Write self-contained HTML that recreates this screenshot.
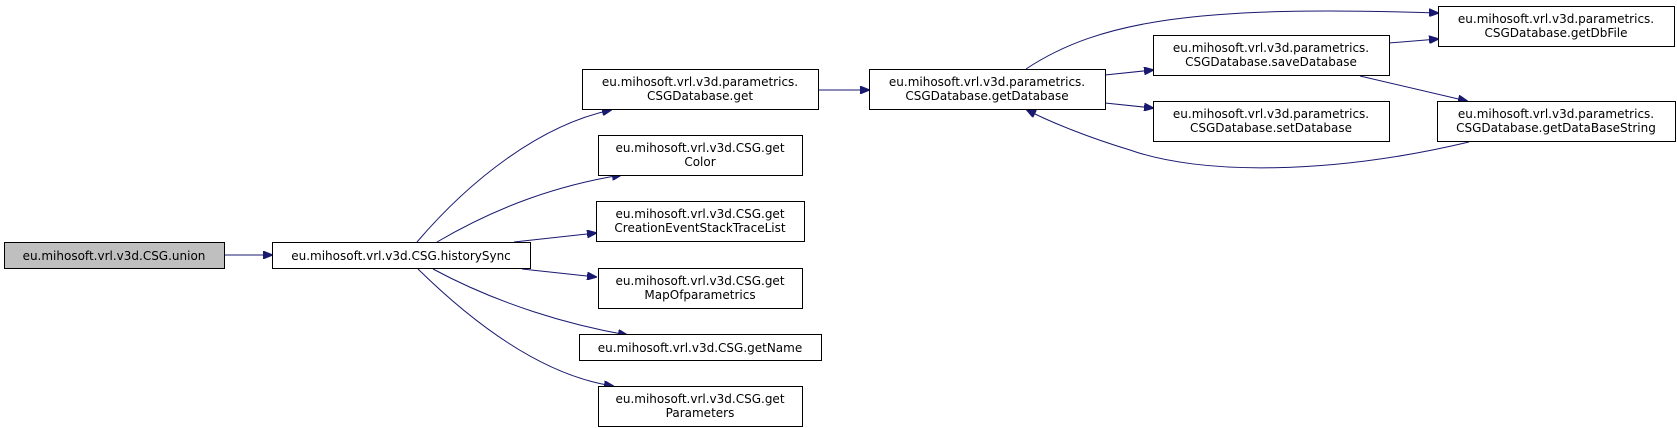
<!DOCTYPE html>
<html><head><meta charset="utf-8"><style>
html,body{margin:0;padding:0;background:#fff;}
svg{display:block;}
text{font-family:"DejaVu Sans","Liberation Sans",sans-serif;font-size:12px;fill:#000;}
</style></head><body>
<svg width="1677" height="428" viewBox="0 0 1677 428" xmlns="http://www.w3.org/2000/svg">
<defs>
<marker id="a" markerWidth="10" markerHeight="8" refX="9" refY="4" orient="auto" markerUnits="userSpaceOnUse">
<path d="M0,0 L10,4 L0,8 z" fill="#191970" stroke="#191970"/>
</marker>
</defs>
<g fill="none" stroke="#191970" stroke-width="1" marker-end="url(#a)">
<path d="M224,255 L272,255"/>
<path d="M417,242 C470,180 540,125 611,110"/>
<path d="M437,242 C500,205 560,185 621,175"/>
<path d="M514,242 L596,233"/>
<path d="M522,269 L596,277"/>
<path d="M433,269 C500,305 570,325 627,335"/>
<path d="M418,269 C470,320 540,375 613,386"/>
<path d="M818,90 L869,90"/>
<path d="M1026,69 C1100,20 1200,5 1438,13"/>
<path d="M1105,75 L1153,70"/>
<path d="M1105,103 L1153,108"/>
<path d="M1389,43 L1438,39"/>
<path d="M1360,76 L1467,101"/>
<path d="M1469,142 C1330,175 1200,175 1130,150 C1090,138 1050,122 1027,110"/>
</g>
<g stroke="#000" stroke-width="1">
<rect x="4.5" y="242.5" width="220" height="26" fill="#bfbfbf"/>
<rect x="272.5" y="242.5" width="258" height="26" fill="#fff"/>
<rect x="582.5" y="69.5" width="236" height="40" fill="#fff"/>
<rect x="598.5" y="135.5" width="204" height="40" fill="#fff"/>
<rect x="596.5" y="201.5" width="208" height="40" fill="#fff"/>
<rect x="598.5" y="268.5" width="204" height="40" fill="#fff"/>
<rect x="579.5" y="334.5" width="242" height="26" fill="#fff"/>
<rect x="598.5" y="386.5" width="204" height="40" fill="#fff"/>
<rect x="869.5" y="69.5" width="236" height="40" fill="#fff"/>
<rect x="1153.5" y="35.5" width="236" height="40" fill="#fff"/>
<rect x="1153.5" y="101.5" width="236" height="40" fill="#fff"/>
<rect x="1438.5" y="6.5" width="236" height="40" fill="#fff"/>
<rect x="1437.5" y="101.5" width="238" height="40" fill="#fff"/>
</g>
<g text-anchor="middle">
<text x="114" y="260">eu.mihosoft.vrl.v3d.CSG.union</text>
<text x="401" y="260">eu.mihosoft.vrl.v3d.CSG.historySync</text>
<text x="700" y="86">eu.mihosoft.vrl.v3d.parametrics.</text><text x="700" y="100">CSGDatabase.get</text>
<text x="700" y="152">eu.mihosoft.vrl.v3d.CSG.get</text><text x="700" y="166">Color</text>
<text x="700" y="218">eu.mihosoft.vrl.v3d.CSG.get</text><text x="700" y="232">CreationEventStackTraceList</text>
<text x="700" y="285">eu.mihosoft.vrl.v3d.CSG.get</text><text x="700" y="299">MapOfparametrics</text>
<text x="700" y="352">eu.mihosoft.vrl.v3d.CSG.getName</text>
<text x="700" y="403">eu.mihosoft.vrl.v3d.CSG.get</text><text x="700" y="417">Parameters</text>
<text x="987" y="86">eu.mihosoft.vrl.v3d.parametrics.</text><text x="987" y="100">CSGDatabase.getDatabase</text>
<text x="1271" y="52">eu.mihosoft.vrl.v3d.parametrics.</text><text x="1271" y="66">CSGDatabase.saveDatabase</text>
<text x="1271" y="118">eu.mihosoft.vrl.v3d.parametrics.</text><text x="1271" y="132">CSGDatabase.setDatabase</text>
<text x="1556" y="23">eu.mihosoft.vrl.v3d.parametrics.</text><text x="1556" y="37">CSGDatabase.getDbFile</text>
<text x="1556" y="118">eu.mihosoft.vrl.v3d.parametrics.</text><text x="1556" y="132">CSGDatabase.getDataBaseString</text>
</g>
</svg>
</body></html>
